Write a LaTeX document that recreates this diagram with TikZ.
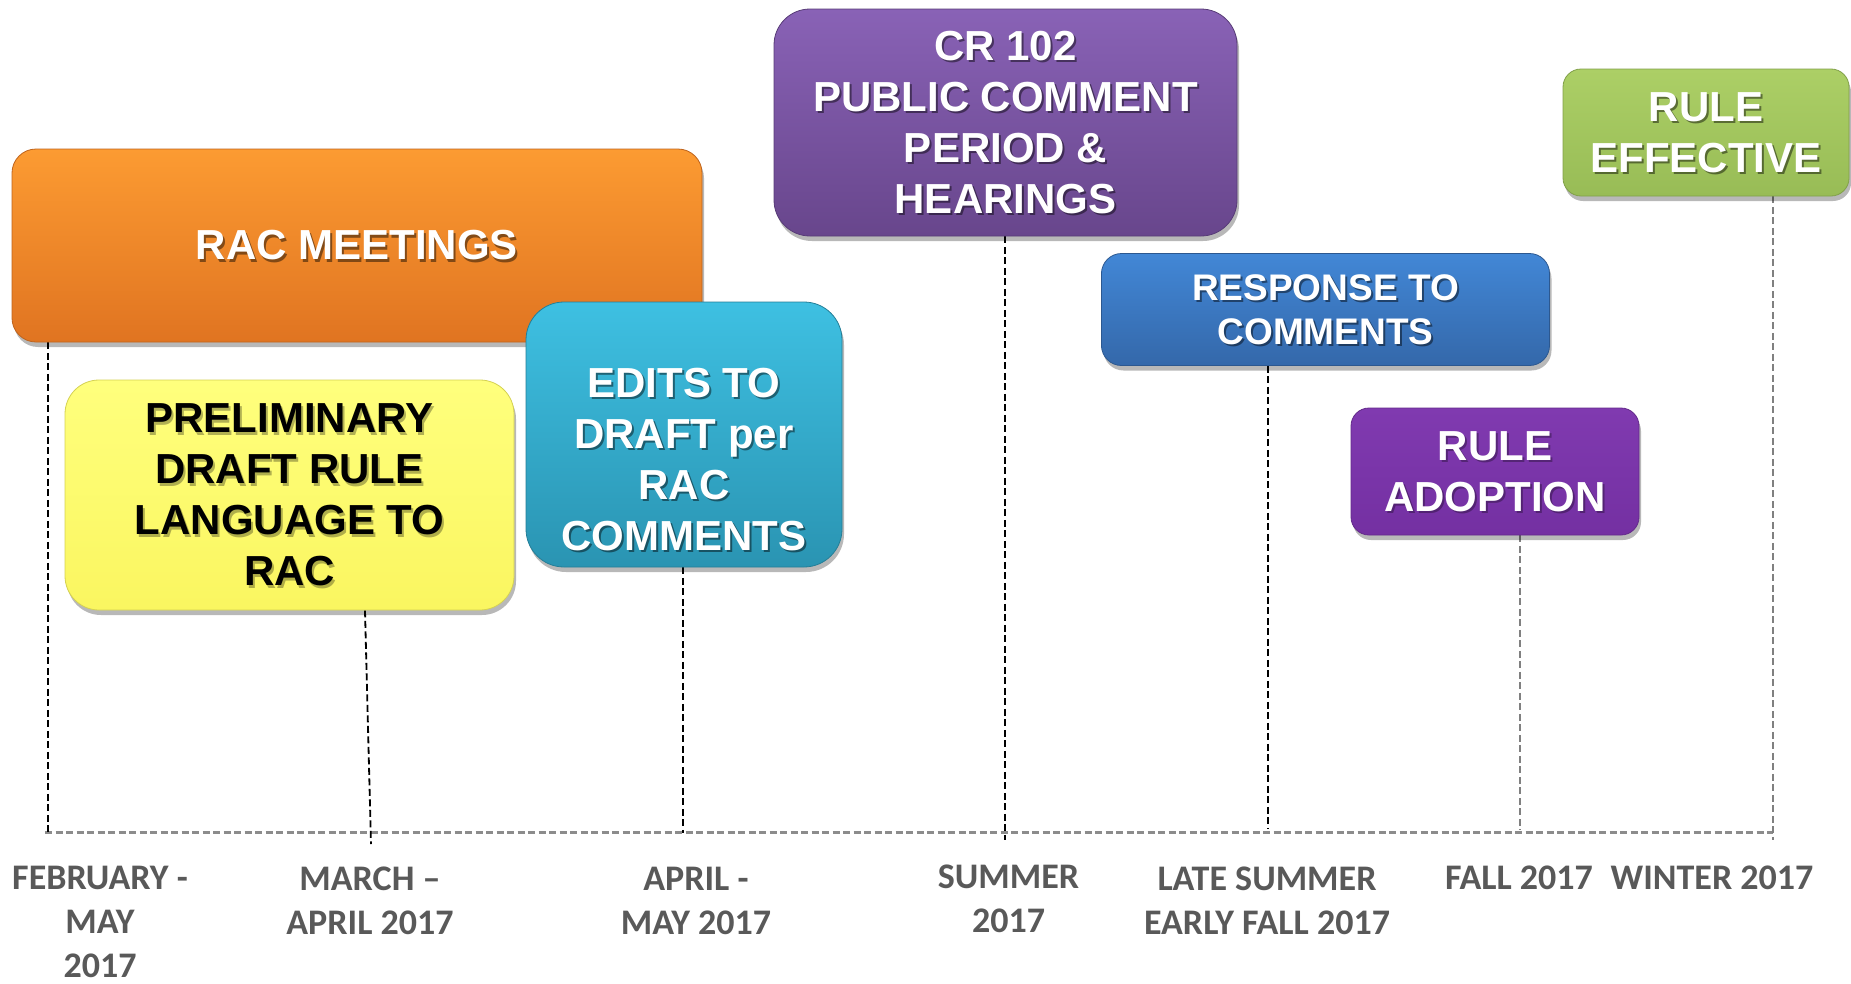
\documentclass[tikz,border=0pt]{standalone}
\usepackage{fontspec}
\newfontfamily\boxfont{Liberation Sans}
\newfontfamily\datefont{Carlito}
\usetikzlibrary{shadows}
\pgfdeclarelayer{bg}
\pgfsetlayers{bg,main}

% phase colours: top and bottom of each gradient
\definecolor{orTop}{RGB}{252,155,50}
\definecolor{orBot}{RGB}{224,116,33}
\definecolor{yeTop}{RGB}{255,255,125}
\definecolor{yeBot}{RGB}{250,246,96}
\definecolor{cyTop}{RGB}{62,192,226}
\definecolor{cyBot}{RGB}{42,148,178}
\definecolor{puTop}{RGB}{137,98,182}
\definecolor{puBot}{RGB}{104,70,140}
\definecolor{blTop}{RGB}{66,135,214}
\definecolor{blBot}{RGB}{52,104,170}
\definecolor{viTop}{RGB}{128,58,176}
\definecolor{viBot}{RGB}{116,48,162}
\definecolor{grTop}{RGB}{172,207,102}
\definecolor{grBot}{RGB}{152,188,86}
\definecolor{dategray}{RGB}{89,89,89}
\definecolor{axisgray}{RGB}{140,140,140}
\definecolor{tickgray}{RGB}{128,128,128}

\tikzset{
  phase/.style={rectangle, inner sep=0pt,
    draw=#1Bot!85!black, line width=0.8pt,
    top color=#1Top, bottom color=#1Bot,
    drop shadow={shadow xshift=2pt, shadow yshift=-5pt, opacity=0.28, fill=black}},
  boxtxt/.style={font=\boxfont\bfseries\fontsize{42}{51}\selectfont,
    align=center, text=white, inner sep=0pt},
  txtshadow/.style={boxtxt, text=black, opacity=0.45},
  datetxt/.style={font=\datefont\bfseries\fontsize{36}{44}\selectfont,
    align=center, text=dategray, inner sep=0pt, anchor=north},
  axisline/.style={draw=axisgray, line width=3pt, dash pattern=on 7pt off 3.5pt},
  tickline/.style={draw=black, line width=1.8pt, dash pattern=on 7pt off 3.5pt},
  graytick/.style={tickline, draw=tickgray},
}

\begin{document}
\begin{tikzpicture}[x=1pt,y=-1pt]
\useasboundingbox (0,0) rectangle (1851,983);

% timeline axis and tick ends
\coordinate (ax0) at (45,832);
\coordinate (ax1) at (1773,832);
\coordinate (t1) at (48,835);
\coordinate (t2) at (371,844);
\coordinate (t3) at (683,833);
\coordinate (t4) at (1005,840);
\coordinate (t5) at (1268,829);
\coordinate (t6) at (1520,830);
\coordinate (t7) at (1773,840);

% phase boxes
\node[phase=or, rounded corners=24pt, minimum width=690pt, minimum height=193pt] (rac) at (357,245.5) {};
\node[txtshadow] (racS) at ([shift={(2,2.5)}]rac.center) {RAC MEETINGS};
\node[boxtxt] (racT) at (rac.center) {RAC MEETINGS};

\node[phase=ye, rounded corners=34pt, minimum width=449pt, minimum height=230pt] (prelim) at (289.5,495) {};
\node[txtshadow, opacity=0.3] (prelimS) at ([shift={(2,2.5)}]prelim.center) {PRELIMINARY\\DRAFT RULE\\LANGUAGE TO\\RAC};
\node[boxtxt, text=black] (prelimT) at (prelim.center) {PRELIMINARY\\DRAFT RULE\\LANGUAGE TO\\RAC};

\node[phase=cy, rounded corners=38pt, minimum width=316pt, minimum height=265pt] (edits) at (684,434.5) {};
\node[txtshadow] (editsS) at ([shift={(2,27.5)}]edits.center) {EDITS TO\\DRAFT per\\RAC\\COMMENTS};
\node[boxtxt] (editsT) at ([shift={(0,25)}]edits.center) {EDITS TO\\DRAFT per\\RAC\\COMMENTS};

\node[phase=pu, rounded corners=36pt, minimum width=463pt, minimum height=227pt] (cr) at (1005.5,122.5) {};
\node[txtshadow] (crS) at ([shift={(2,2.5)}]cr.center) {CR 102\\PUBLIC COMMENT\\PERIOD \&\\HEARINGS};
\node[boxtxt] (crT) at (cr.center) {CR 102\\PUBLIC COMMENT\\PERIOD \&\\HEARINGS};

\node[phase=bl, rounded corners=20pt, minimum width=448pt, minimum height=112pt] (resp) at (1325.5,309.5) {};
\node[txtshadow, font=\boxfont\bfseries\fontsize{37}{44}\selectfont] (respS) at ([shift={(2,2.5)}]resp.center) {RESPONSE TO\\COMMENTS};
\node[boxtxt, font=\boxfont\bfseries\fontsize{37}{44}\selectfont] (respT) at (resp.center) {RESPONSE TO\\COMMENTS};

\node[phase=vi, rounded corners=18pt, minimum width=288pt, minimum height=127pt] (adopt) at (1495,471.5) {};
\node[txtshadow, opacity=0.3] (adoptS) at ([shift={(2,2.5)}]adopt.center) {RULE\\ADOPTION};
\node[boxtxt] (adoptT) at (adopt.center) {RULE\\ADOPTION};

\node[phase=gr, rounded corners=18pt, minimum width=286pt, minimum height=127pt] (eff) at (1706,132.5) {};
\node[txtshadow] (effS) at ([shift={(2,2.5)}]eff.center) {RULE\\EFFECTIVE};
\node[boxtxt] (effT) at (eff.center) {RULE\\EFFECTIVE};

% date labels under the axis
\node[datetxt] (dFeb)  at (100,865.5)  {FEBRUARY -\\MAY\\2017};
\node[datetxt] (dMar)  at (370,866.5)  {MARCH –\\APRIL 2017};
\node[datetxt] (dApr)  at (696,867)    {APRIL -\\MAY 2017};
\node[datetxt] (dSum)  at (1008.5,865) {SUMMER\\2017};
\node[datetxt] (dLate) at (1267,867)   {LATE SUMMER\\EARLY FALL 2017};
\node[datetxt] (dFall) at (1519,865.5) {FALL 2017};
\node[datetxt] (dWin)  at (1712,866)   {WINTER 2017};

% axis and drop lines, behind the boxes
\begin{pgfonlayer}{bg}
\draw[axisline] (ax0) -- (ax1);
\draw[tickline] (rac.south -| t1) -- (t1);
\draw[tickline] ([xshift=75.5pt]prelim.south) -- (t2);
\draw[tickline] (edits.south -| t3) -- (t3);
\draw[tickline] (cr.south -| t4) -- (t4);
\draw[tickline] (resp.south -| t5) -- (t5);
\draw[graytick] (adopt.south -| t6) -- (t6);
\draw[graytick] (eff.south -| t7) -- (t7);
\end{pgfonlayer}
\end{tikzpicture}
\end{document}
